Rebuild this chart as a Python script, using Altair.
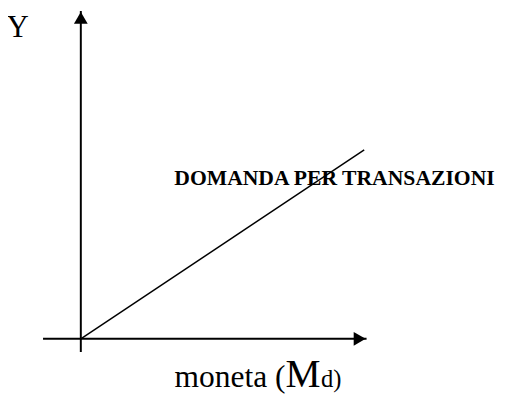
import altair as alt
import pandas as pd

# Conceptual data (units): origin of the diagram at (0, 0)
axis_x_from = [-0.8]
axis_x_to = [6.05]
axis_y_from = [-0.28]
axis_y_to = [6.94]
demand_md = [0.0, 6.0]
demand_y = [0.0, 4.0]

y_label = "Y"
curve_label = "DOMANDA PER TRANSAZIONI"
x_label_parts = ["moneta (", "M", "d)"]

X_DOMAIN = [-1.5417, 8.854]
Y_DOMAIN = [-1.1458, 6.9375]
W, H = 499, 388

xs = alt.Scale(domain=X_DOMAIN, nice=False, zero=False)
ys = alt.Scale(domain=Y_DOMAIN, nice=False, zero=False)

haxis = pd.DataFrame({"x": axis_x_from, "x2": axis_x_to, "y": [0.0]})
vaxis = pd.DataFrame({"y": axis_y_from, "y2": axis_y_to, "x": [0.0]})
demand = pd.DataFrame({"x": demand_md, "y": demand_y})
harrow = pd.DataFrame({"x": axis_x_to, "y": [0.0]})
varrow = pd.DataFrame({"x": [0.0], "y": axis_y_to})

hrule = alt.Chart(haxis).mark_rule(color="black", strokeWidth=2).encode(
    x=alt.X("x:Q", scale=xs, axis=None), x2="x2:Q",
    y=alt.Y("y:Q", scale=ys, axis=None))
vrule = alt.Chart(vaxis).mark_rule(color="black", strokeWidth=2).encode(
    x=alt.X("x:Q", scale=xs, axis=None),
    y=alt.Y("y:Q", scale=ys, axis=None), y2="y2:Q")
line = alt.Chart(demand).mark_line(color="black", strokeWidth=1.5).encode(
    x=alt.X("x:Q", scale=xs, axis=None),
    y=alt.Y("y:Q", scale=ys, axis=None))
ha = alt.Chart(harrow).mark_point(shape="triangle-right", filled=True, size=196,
                                  color="black", opacity=1, xOffset=-7).encode(
    x=alt.X("x:Q", scale=xs, axis=None), y=alt.Y("y:Q", scale=ys, axis=None))
va = alt.Chart(varrow).mark_point(shape="triangle-up", filled=True, size=196,
                                  color="black", opacity=1, yOffset=7).encode(
    x=alt.X("x:Q", scale=xs, axis=None), y=alt.Y("y:Q", scale=ys, axis=None))

font = "Liberation Serif"
tdf = pd.DataFrame({"t": [0]})

t_y = alt.Chart(tdf).mark_text(text=y_label, font=font, fontSize=31, align="center",
                               baseline="alphabetic", color="black").encode(
    x=alt.value(10), y=alt.value(26))
t_curve = alt.Chart(tdf).mark_text(text=curve_label, font=font, fontSize=22,
                                   fontWeight="bold", align="left",
                                   baseline="alphabetic", color="black").encode(
    x=alt.value(169), y=alt.value(177))
t_x1 = alt.Chart(tdf).mark_text(text=x_label_parts[0], font=font, fontSize=32,
                                align="right", baseline="alphabetic", color="black").encode(
    x=alt.value(282), y=alt.value(382))
t_x2 = alt.Chart(tdf).mark_text(text=x_label_parts[1], font=font, fontSize=40,
                                align="left", baseline="alphabetic", color="black").encode(
    x=alt.value(282), y=alt.value(382))
t_x3 = alt.Chart(tdf).mark_text(text=x_label_parts[2], font=font, fontSize=25,
                                align="left", baseline="alphabetic", color="black").encode(
    x=alt.value(318), y=alt.value(382))

chart = alt.layer(hrule, vrule, line, ha, va, t_y, t_curve, t_x1, t_x2, t_x3).properties(
    width=W, height=H, padding=0, autosize=alt.AutoSizeParams(type="none"),
    background="white"
).configure_view(stroke=None)

chart.save("out.html", embed_options={"renderer": "svg", "actions": False})
